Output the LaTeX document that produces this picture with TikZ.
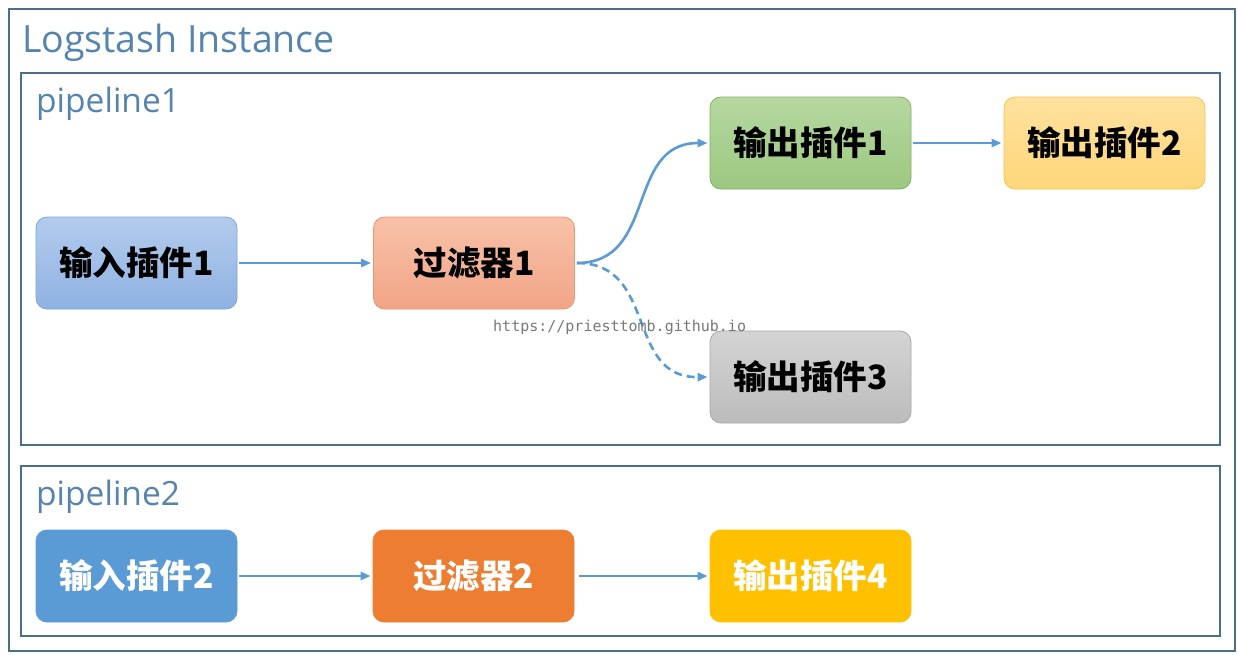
\documentclass[tikz,border=0pt]{standalone}
\usepackage{fontspec}
\setmainfont{Open Sans}
\newfontfamily\cjk{Noto Sans CJK SC}
\setmonofont{DejaVu Sans Mono}
\usetikzlibrary{arrows.meta}
\definecolor{frame}{HTML}{4A6F8A}
\definecolor{ttl}{HTML}{5584AE}
\definecolor{arr}{HTML}{5B9BD5}
\definecolor{bAd}{HTML}{7EA6D8}\definecolor{bAt}{HTML}{B2CBED}\definecolor{bAb}{HTML}{8FB2E1}
\definecolor{sAd}{HTML}{E99770}\definecolor{sAt}{HTML}{F8C1A8}\definecolor{sAb}{HTML}{F2A587}
\definecolor{gAd}{HTML}{80B065}\definecolor{gAt}{HTML}{B6D8A0}\definecolor{gAb}{HTML}{9CC880}
\definecolor{yAd}{HTML}{F6C44C}\definecolor{yAt}{HTML}{FFE29E}\definecolor{yAb}{HTML}{FFD67A}
\definecolor{kAd}{HTML}{A6A6A6}\definecolor{kAt}{HTML}{D4D4D4}\definecolor{kAb}{HTML}{BCBCBC}
\definecolor{blue2}{HTML}{5B9BD5}\definecolor{orange2}{HTML}{ED7D31}\definecolor{gold2}{HTML}{FFC000}
\definecolor{wmc}{HTML}{787878}
\tikzset{
  box/.style={rounded corners=11pt, minimum width=201pt, minimum height=92pt, inner sep=0pt, line width=0.8pt,
     font=\cjk\bfseries\fontsize{33.5}{36}\selectfont},
  conn/.style={draw=arr, line width=2.6pt, -{Triangle[length=10pt,width=8pt]}},
  pipe/.style={draw=frame, line width=2pt},
  lab/.style={anchor=base west, text=ttl, inner sep=0pt},
}
\begin{document}
\begin{tikzpicture}[x=1pt,y=-1pt]
\useasboundingbox (0,0) rectangle (1238,654);
\fill[white] (0,0) rectangle (1238,654);
% frames
\draw[pipe] (9,9) rectangle (1235,651);
\node[lab, font=\fontsize{37.5}{40}\selectfont] (title) at (22,52) {Logstash Instance};
\draw[pipe] (21,73) rectangle (1220,445);
\node[lab, font=\fontsize{33.5}{36}\selectfont] (p1) at (36,112) {pipeline1};
\draw[pipe] (21,466) rectangle (1220,636);
\node[lab, font=\fontsize{33.5}{36}\selectfont] (p2) at (36,505) {pipeline2};
% pipeline1 nodes
\node[box, draw=bAd, top color=bAt, bottom color=bAb] (in1) at (136.5,263) {输入插件1};
\node[box, draw=sAd, top color=sAt, bottom color=sAb] (f1) at (474,263) {过滤器1};
\node[box, draw=gAd, top color=gAt, bottom color=gAb] (o1) at (810.5,143) {输出插件1};
\node[box, draw=yAd, top color=yAt, bottom color=yAb] (o2) at (1104.5,143) {输出插件2};
\node[box, draw=kAd, top color=kAt, bottom color=kAb] (o3) at (810.5,377) {输出插件3};
% pipeline2 nodes
\node[box, draw=blue2, fill=blue2, text=white] (in2) at (136.5,576) {输入插件2};
\node[box, draw=orange2, fill=orange2, text=white] (f2) at (473.5,576) {过滤器2};
\node[box, draw=gold2, fill=gold2, text=white] (o4) at (810.5,576) {输出插件4};
% connectors
\draw[conn] ([xshift=2pt]in1.east) -- ([xshift=-2pt]f1.west);
\draw[conn] ([xshift=2pt]f1.east) .. controls (658,263) and (625,143) .. ([xshift=-2pt]o1.west);
\draw[conn, dash pattern=on 8pt off 5pt] ([xshift=2pt]f1.east) .. controls (658,263) and (625,378) .. ([xshift=-2pt]o3.west);
\draw[conn] ([xshift=2pt]o1.east) -- ([xshift=-2pt]o2.west);
\draw[conn] ([xshift=2pt]in2.east) -- ([xshift=-2pt]f2.west);
\draw[conn] ([xshift=5pt]f2.east) -- ([xshift=-2pt]o4.west);
% watermark
\node[anchor=base west, inner sep=0pt, text=wmc, font=\ttfamily\fontsize{15}{16}\selectfont] (wm) at (493,331) {https://priesttomb.github.io};
\end{tikzpicture}
\end{document}
